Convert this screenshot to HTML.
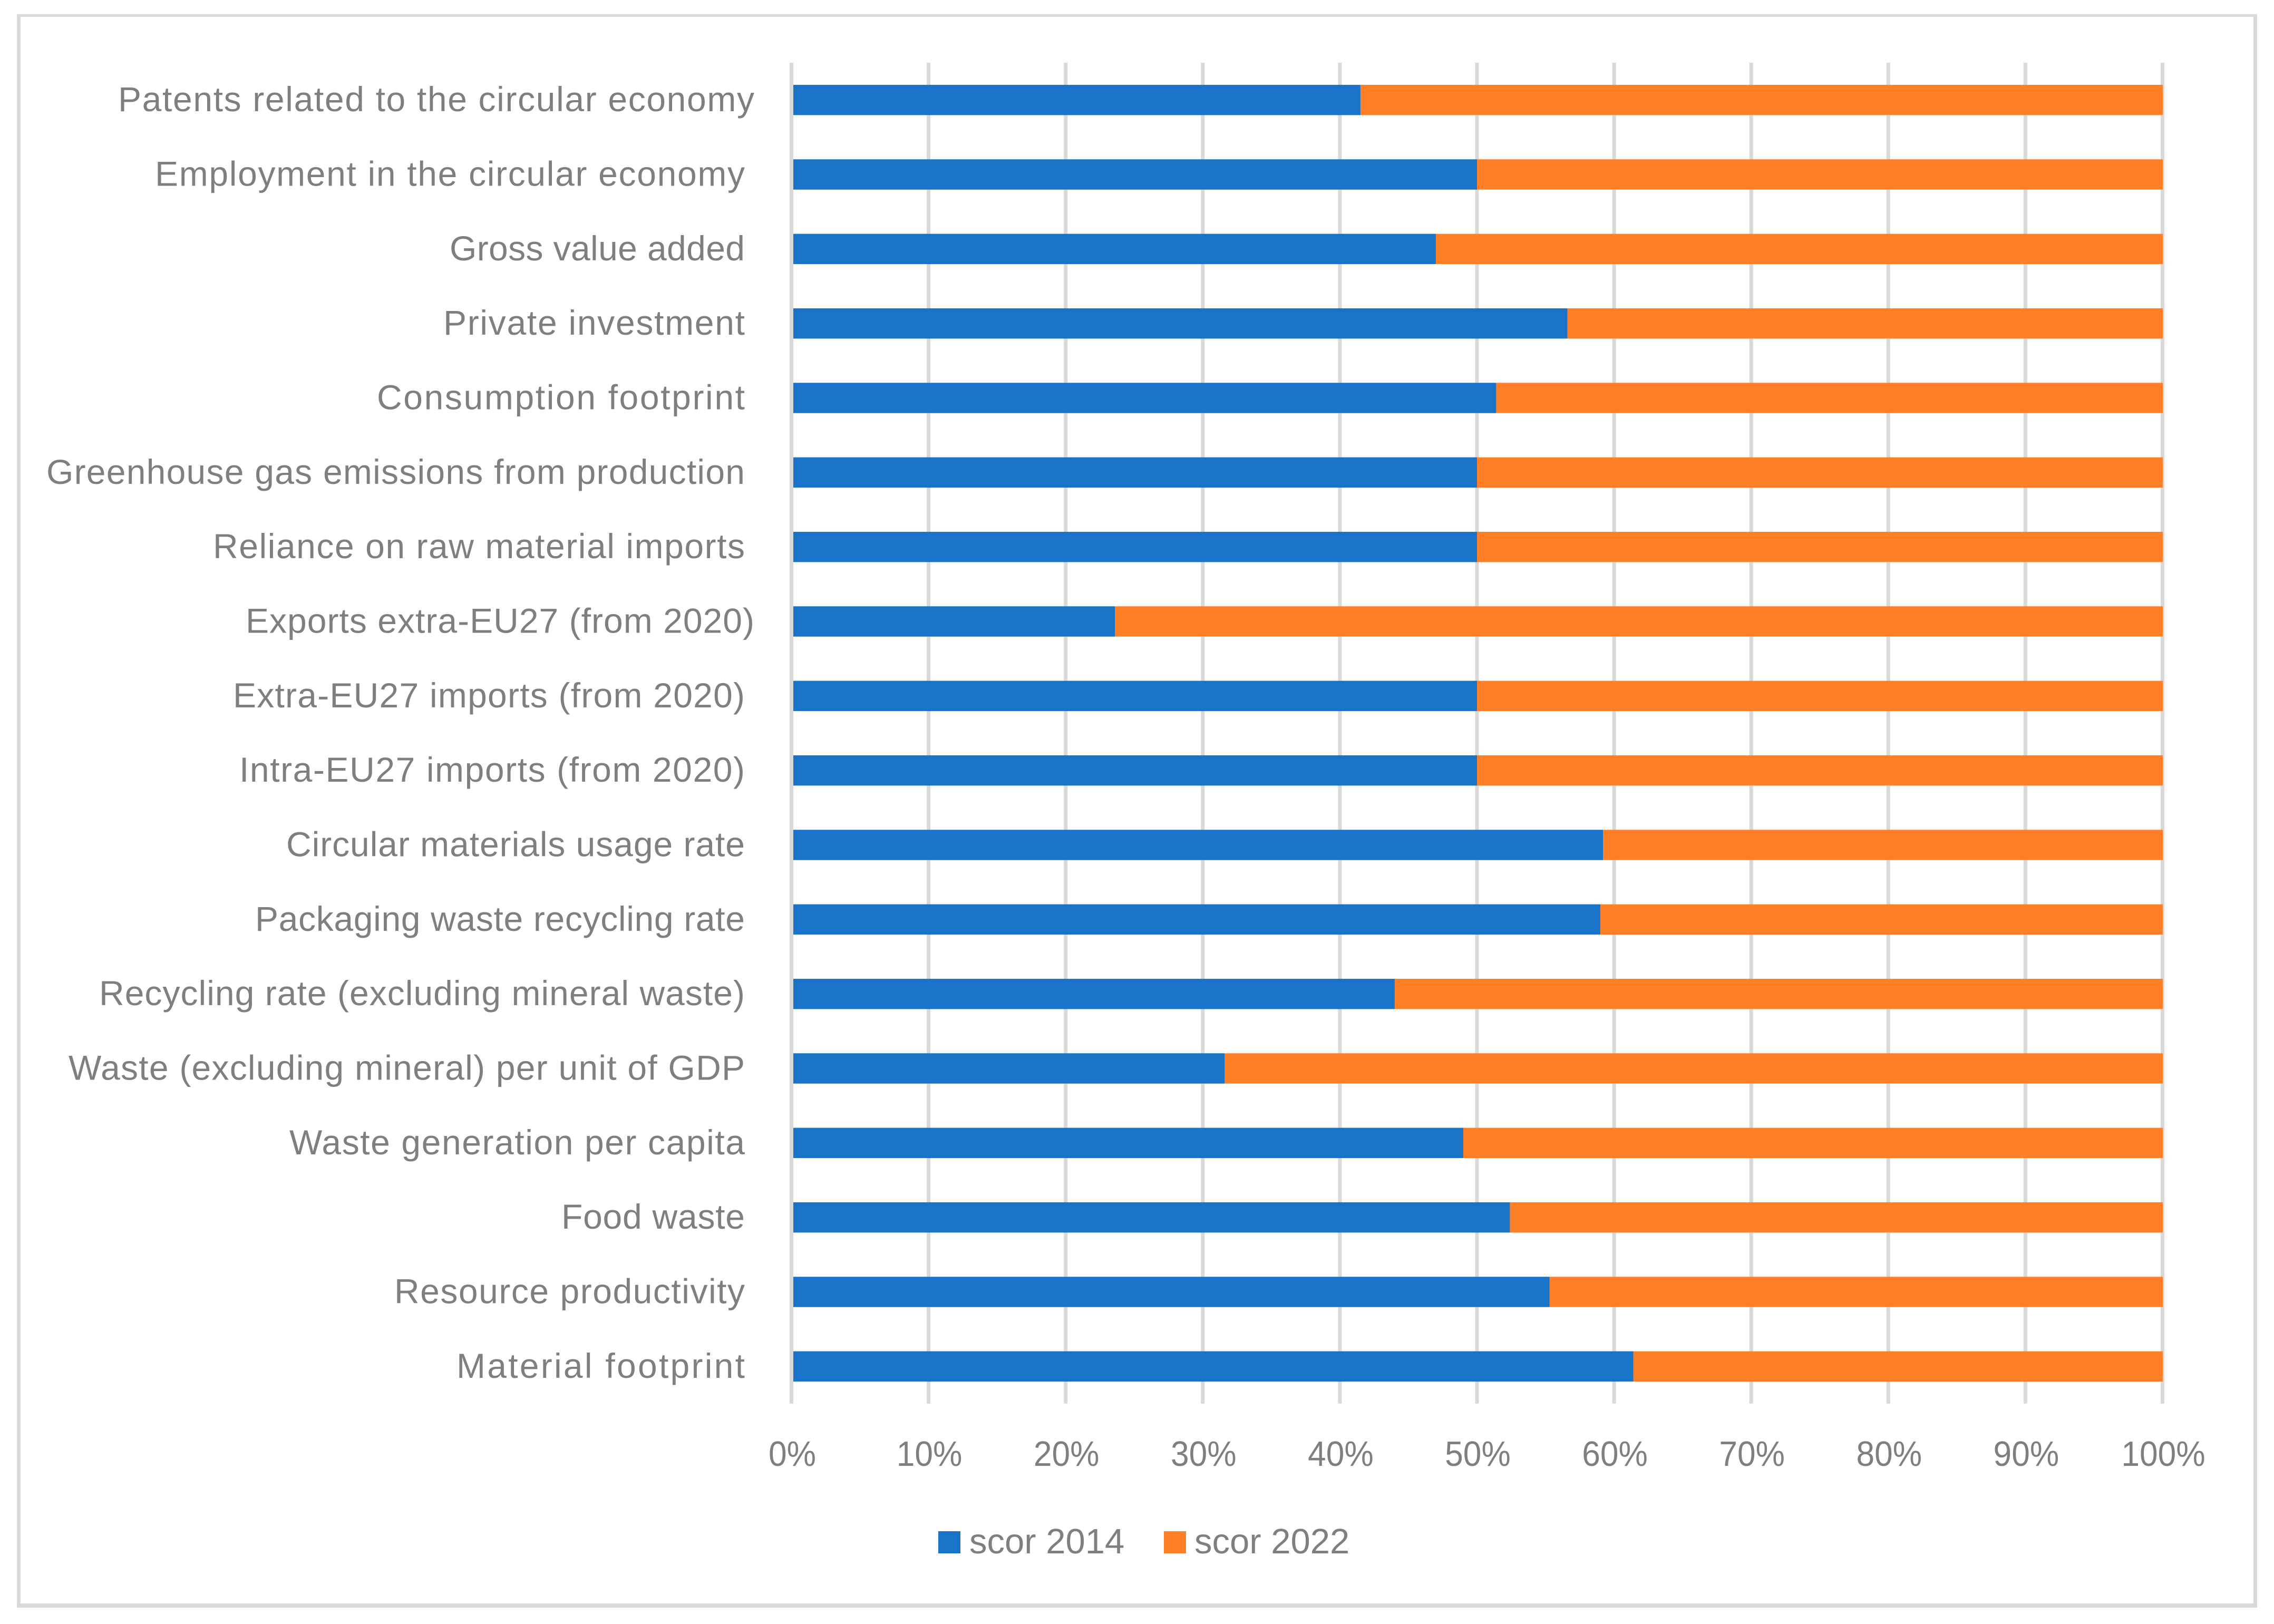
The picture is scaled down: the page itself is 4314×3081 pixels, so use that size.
<!DOCTYPE html>
<html lang="en">
<head>
<meta charset="utf-8">
<title>Circular economy indicators: scor 2014 vs scor 2022</title>
<style>
  html, body { margin: 0; padding: 0; background: #ffffff; }
  svg { display: block; }
  text { font-family: "Liberation Sans", sans-serif; fill: #7f7f7f; white-space: pre; }
</style>
</head>
<body>
<svg id="chart" xmlns="http://www.w3.org/2000/svg" width="4314" height="3081" viewBox="0 0 4314 3081">
  <rect x="0" y="0" width="4314" height="3081" fill="#ffffff"/>
  <g fill="#d9d9d9">
    <rect x="32" y="27" width="4250" height="5"/>
    <rect x="32" y="27" width="7" height="3023"/>
    <rect x="4275" y="27" width="7" height="3023"/>
    <rect x="32" y="3042" width="4250" height="8"/>
  </g>
  <g id="grid"></g>
  <g id="bars"></g>
  <g id="axis"></g>
  <g id="ylabels"></g>
  <g id="xlabels"></g>
  <g>
    <g>
      <rect x="1780" y="2905" width="42" height="42" fill="#1873c9"/>
      <text x="1839" y="2947" font-size="67">scor 2014</text>
    </g>
    <g>
      <rect x="2208" y="2905" width="42" height="42" fill="#ff7f27"/>
      <text x="2266" y="2947" font-size="67">scor 2022</text>
    </g>
  </g>
</svg>
<script>
const categories = [
  "Patents related to the circular economy",
  "Employment in the circular economy ",
  "Gross value added ",
  "Private investment ",
  "Consumption footprint ",
  "Greenhouse gas emissions from production ",
  "Reliance on raw material imports ",
  "Exports extra-EU27 (from 2020)",
  "Extra-EU27 imports (from 2020) ",
  "Intra-EU27 imports (from 2020) ",
  "Circular materials usage rate ",
  "Packaging waste recycling rate ",
  "Recycling rate (excluding mineral waste) ",
  "Waste (excluding mineral) per unit of GDP ",
  "Waste generation per capita ",
  "Food waste ",
  "Resource productivity ",
  "Material footprint "
];
const scor2014 = [41.5, 50, 47, 56.6, 51.4, 50, 50, 23.6, 50, 50, 59.2, 59, 44, 31.6, 49, 52.4, 55.3, 61.4];
const scor2022 = [58.5, 50, 53, 43.4, 48.6, 50, 50, 76.4, 50, 50, 40.8, 41, 56, 68.4, 51, 47.6, 44.7, 38.6];
const tickValues = [0, 10, 20, 30, 40, 50, 60, 70, 80, 90, 100];
const tickLabels = ["0%", "10%", "20%", "30%", "40%", "50%", "60%", "70%", "80%", "90%", "100%"];

const NS = "http://www.w3.org/2000/svg";
const plotLeft = 1501.5, plotRight = 4102.5, plotTop = 119, plotBottom = 2663;
const band = (plotBottom - plotTop) / categories.length;
const barHeight = band / 2.46;
const gridWidth = 7;
function xScale(v) { return plotLeft + (v / 100) * (plotRight - plotLeft); }
function yCenter(i) { return plotTop + band * (i + 0.5); }
function make(parent, tag, attrs) {
  const el = document.createElementNS(NS, tag);
  for (const k in attrs) el.setAttribute(k, attrs[k]);
  parent.appendChild(el);
  return el;
}

/* Layout only: rendered label widths, fitting the substitute font to the reference. */
const labelFitWidths = [1207, 1119, 560, 572, 698, 1325, 1009, 965, 971, 959, 870, 929, 1225, 1283, 864, 348, 665, 547];

const grid = document.getElementById("grid");
const xlabels = document.getElementById("xlabels");
tickValues.forEach(function (v, i) {
  const x = xScale(v);
  if (v !== 0) {
    const line = make(grid, "rect", { x: x - gridWidth / 2, y: plotTop, width: gridWidth, height: plotBottom - plotTop, fill: "#d9d9d9" });
    
    
  }
  const label = make(xlabels, "text", { transform: "translate(" + (x + 1.5) + ",2781) scale(0.93,1)", "text-anchor": "middle", "font-size": 67 });
  label.textContent = tickLabels[i];
  
  
});

const bars = document.getElementById("bars");
const ylabels = document.getElementById("ylabels");
categories.forEach(function (name, i) {
  const total = scor2014[i] + scor2022[i];
  const split = (scor2014[i] / total) * 100;
  const top = yCenter(i) - barHeight / 2;
  const a = make(bars, "rect", { x: xScale(0), y: top, width: xScale(split) - xScale(0), height: barHeight, fill: "#1873c9" });
  
  
  const b = make(bars, "rect", { x: xScale(split), y: top, width: xScale(100) - xScale(split) + 0.5, height: barHeight, fill: "#ff7f27" });
  
  
  const right = name.endsWith(" ") ? 1413 : 1431;
  const t = make(ylabels, "text", { x: right, y: yCenter(i) + 21.5, "text-anchor": "end", "font-size": 66, textLength: labelFitWidths[i], lengthAdjust: "spacing" });
  t.textContent = name.trim();
  
  
});

const axisLine = make(document.getElementById("axis"), "rect", { x: xScale(0) - gridWidth / 2, y: plotTop, width: gridWidth, height: plotBottom - plotTop, fill: "#d9d9d9" });


</script>
</body>
</html>
